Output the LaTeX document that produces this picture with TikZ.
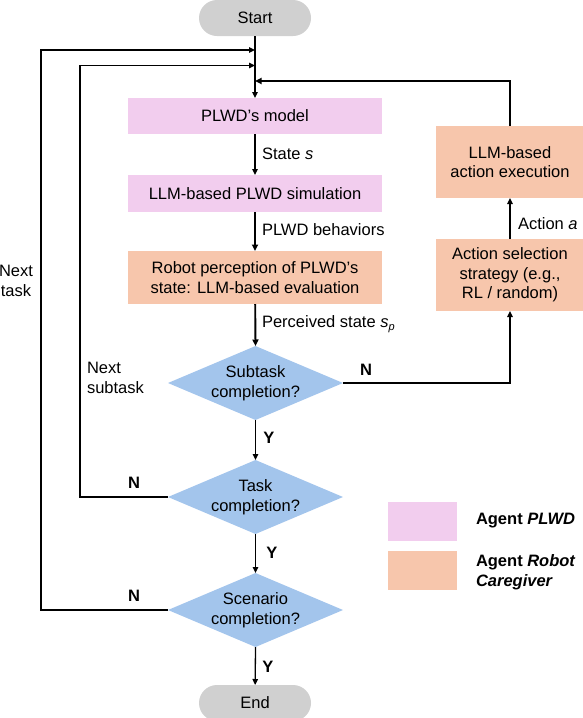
\documentclass[tikz,border=0pt]{standalone}
\usepackage{fontspec}
\setmainfont{Liberation Sans}
\usetikzlibrary{shapes.geometric,arrows.meta}
\definecolor{pinkfill}{HTML}{F2CDEE}
\definecolor{orangefill}{HTML}{F7C6AC}
\definecolor{bluefill}{HTML}{A3C5EC}
\definecolor{grayfill}{HTML}{D0D0D0}
\begin{document}
\begin{tikzpicture}[x=1pt,y=-1pt,
  every node/.style={font=\fontsize{16.5}{19.5}\selectfont, inner sep=0pt, outer sep=0pt},
  term/.style={fill=grayfill, rounded corners=18pt, minimum width=112pt, minimum height=36pt},
  pinkbox/.style={fill=pinkfill, minimum width=254pt, minimum height=36pt, align=center},
  orangebox/.style={fill=orangefill, align=center},
  decision/.style={diamond, fill=bluefill, minimum width=175pt, minimum height=74pt},
  conn/.style={line width=1.3pt, -{Triangle[length=6pt,width=5.5pt]}},
  thickconn/.style={line width=1.9pt, -{Triangle[length=6.5pt,width=6pt]}},
  yn/.style={font=\fontsize{16.5}{19.5}\selectfont\bfseries},
  lbl/.style={anchor=west}]
\useasboundingbox (0,0) rectangle (582,718);
% main column
\node[term] (start) at (255,18) {Start};
\node[pinkbox] (model) at (255,116) {PLWD’s model};
\node[pinkbox, minimum height=37pt] (sim) at (255,193.5) {LLM-based PLWD simulation};
\node[orangebox, minimum width=254pt, minimum height=53pt] (perc) at (255,277.5) {Robot perception of PLWD’s\\state: LLM-based evaluation};
\node[decision] (sub) at (255.5,383) {};
\node[align=center] (subt) at (sub) {Subtask\\completion?};
\node[decision] (task) at (255.5,497) {};
\node[align=center] (taskt) at (task) {Task\\completion?};
\node[decision] (scen) at (255.5,610) {};
\node[align=center] (scent) at (scen) {Scenario\\completion?};
\node[term] (end) at (255,703) {End};
% right column
\node[orangebox, minimum width=148pt, minimum height=72pt] (exec) at (510,162) {LLM-based\\action execution};
\node[orangebox, minimum width=148pt, minimum height=72pt] (sel) at (510,275) {Action selection\\strategy (e.g.,\\RL / random)};
% junctions
\coordinate (j1) at (255,50);
\coordinate (j2) at (255,65.5);
\coordinate (j3) at (255,81);
\coordinate (c1) at (41,50);
\coordinate (c2) at (80,65.5);
% connectors
\draw[conn] (start) -- (model);
\draw[conn] (model) -- (sim);
\draw[thickconn] (sim) -- (perc);
\draw[thickconn] (perc) -- (sub.north);
\draw[conn] (sub.south) -- (task.north);
\draw[conn] (task.south) -- (scen.north);
\draw[conn] (scen.south) -- (end);
\draw[line width=1.3pt, -{Triangle[length=6pt,width=5.5pt]}] (sub.east) -| (sel.south);
\draw[conn] (sel) -- (exec);
\draw[thickconn] (exec.north) |- (j3);
\draw[conn] (task.west) -| (c2) -- (j2);
\draw[conn] (scen.west) -| (c1) -- (j1);
% edge labels
\node[lbl] (ls) at (262,154) {State \textit{s}};
\node[lbl] (lb) at (262,230) {PLWD behaviors};
\node[lbl] (lp) at (262,324) {Perceived state \textit{s}\raisebox{-0.35ex}{\fontsize{11}{12}\selectfont\textit{p}}};
\node[lbl] (la) at (518,224) {Action \textit{a}};
\node[yn] (n1) at (366,370) {N};
\node[yn] (y1) at (269,438) {Y};
\node[yn] (n2) at (134,483) {N};
\node[yn] (y2) at (272,553) {Y};
\node[yn] (n3) at (134,596) {N};
\node[yn] (y3) at (268,667) {Y};
\node[align=center] (nt) at (16,281) {Next\\task};
\node[align=left, anchor=west] (ns) at (87,378) {Next\\subtask};
% legend
\node[fill=pinkfill, minimum width=69pt, minimum height=39pt] (legp) at (422.5,521.5) {};
\node[fill=orangefill, minimum width=69pt, minimum height=39pt] (lego) at (422.5,570.5) {};
\node[anchor=west, font=\fontsize{16.5}{19.5}\selectfont\bfseries] (legpt) at (476,521) {Agent \textit{PLWD}};
\node[anchor=west, align=left, font=\fontsize{16.5}{19.5}\selectfont\bfseries] (legot) at (476,572) {Agent \textit{Robot}\\\textit{Caregiver}};
\end{tikzpicture}
\end{document}
